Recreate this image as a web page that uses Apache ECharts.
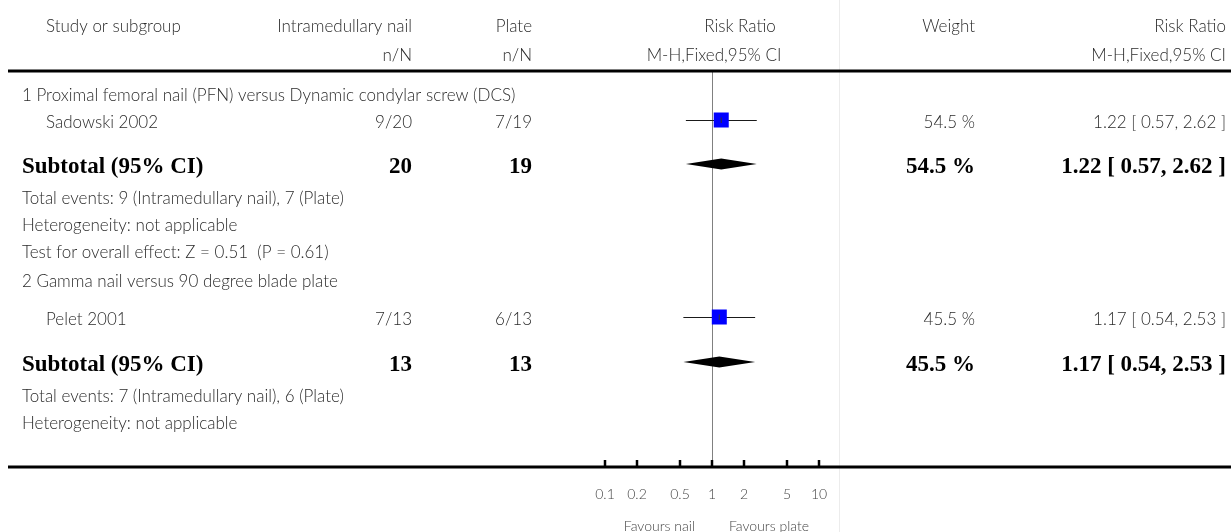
<!DOCTYPE html>
<html>
<head>
<meta charset="utf-8">
<script src="https://cdn.jsdelivr.net/npm/echarts@6/dist/echarts.min.js"></script>
<style>html,body{margin:0;padding:0;background:#fff}#c{width:1231px;height:532px}</style>
</head>
<body>
<div id="c"></div>
<script>
// ---------- data ----------
const subgroupTitles = ['1 Proximal femoral nail (PFN) versus Dynamic condylar screw (DCS)', '2 Gamma nail versus 90 degree blade plate'];
const studies = ['Sadowski 2002', 'Pelet 2001'];
const nailEvents = [9, 7];
const nailTotal = [20, 13];
const plateEvents = [7, 6];
const plateTotal = [19, 13];
const weights = [54.5, 45.5];
const rr = [1.22, 1.17];
const ciLow = [0.57, 0.54];
const ciHigh = [2.62, 2.53];
const subtotalRR = [1.22, 1.17];
const subtotalLow = [0.57, 0.54];
const subtotalHigh = [2.62, 2.53];
const subtotalWeight = [54.5, 45.5];
const heterogeneity = ['not applicable', 'not applicable'];
const overallEffect = ['Z = 0.51  (P = 0.61)', null];
const axisTicks = [0.1, 0.2, 0.5, 1, 2, 5, 10];
const axisTickLabels = ['0.1', '0.2', '0.5', '1', '2', '5', '10'];
const favourLeft = 'Favours nail';
const favourRight = 'Favours plate';

// ---------- layout ----------
const W = 1231, H = 532;
const PLOT_L = 605, PLOT_W = 214;
const TOP_RULE = 71, BOTTOM_RULE = 467;
const COL_STUDY = 46, COL_HEAD = 22, COL_NAIL = 412, COL_PLATE = 532, COL_W = 975, COL_RR = 1226;
const groupRows = [
  {heading: 96, study: 120, subtotal: 164, te: 199, het: 226, test: 253},
  {heading: 282, study: 317, subtotal: 362, te: 397, het: 424, test: null}
];
const TXT_OFF = 3;
const SANS = 'Lato, "Open Sans", sans-serif';
const SERIF = '"Liberation Serif", "DejaVu Serif", serif';
const TXT = '#2b2b2b';
const REG = '300 17px ' + SANS;
const SMALL = '300 14px ' + SANS;

function T(x, y, text, opts) {
  opts = opts || {};
  return {
    type: 'text', x: x, y: y, silent: true,
    style: {
      text: text,
      fill: opts.fill || TXT,
      font: opts.font || REG,
      align: opts.align || 'left',
      verticalAlign: 'middle'
    }
  };
}
const fmt = v => v.toFixed(2);
const rrText = (m, l, h) => fmt(m) + ' [ ' + fmt(l) + ', ' + fmt(h) + ' ]';

const graphics = [];
graphics.push({type: 'line', silent: true, shape: {x1: 839.5, y1: 0, x2: 839.5, y2: H}, style: {stroke: '#ececec', lineWidth: 1}, z: 0});
graphics.push(T(COL_STUDY, 27, 'Study or subgroup'));
graphics.push(T(COL_NAIL, 27, 'Intramedullary nail', {align: 'right'}));
graphics.push(T(COL_NAIL, 56, 'n/N', {align: 'right'}));
graphics.push(T(COL_PLATE, 27, 'Plate', {align: 'right'}));
graphics.push(T(COL_PLATE, 56, 'n/N', {align: 'right'}));
graphics.push(T(740, 27, 'Risk Ratio', {align: 'center'}));
graphics.push(T(714, 56, 'M-H,Fixed,95% CI', {align: 'center'}));
graphics.push(T(COL_W, 27, 'Weight', {align: 'right'}));
graphics.push(T(COL_RR, 27, 'Risk Ratio', {align: 'right'}));
graphics.push(T(COL_RR, 56, 'M-H,Fixed,95% CI', {align: 'right'}));
graphics.push({type: 'line', silent: true, shape: {x1: 8, y1: TOP_RULE, x2: W, y2: TOP_RULE}, style: {stroke: '#000', lineWidth: 3}, z: 5});
graphics.push({type: 'line', silent: true, shape: {x1: 8, y1: BOTTOM_RULE, x2: W, y2: BOTTOM_RULE}, style: {stroke: '#000', lineWidth: 3}, z: 5});

const boldSerif = 'bold 23px ' + SERIF;
studies.forEach((s, i) => {
  const r = groupRows[i];
  graphics.push(T(COL_HEAD, r.heading, subgroupTitles[i]));
  const ys = r.study + TXT_OFF;
  graphics.push(T(COL_STUDY, ys, s));
  graphics.push(T(COL_NAIL, ys, nailEvents[i] + '/' + nailTotal[i], {align: 'right'}));
  graphics.push(T(COL_PLATE, ys, plateEvents[i] + '/' + plateTotal[i], {align: 'right'}));
  graphics.push(T(COL_W, ys, weights[i].toFixed(1) + ' %', {align: 'right'}));
  graphics.push(T(COL_RR, ys, rrText(rr[i], ciLow[i], ciHigh[i]), {align: 'right'}));
  const yt = r.subtotal + TXT_OFF;
  graphics.push(T(COL_HEAD, yt, 'Subtotal (95% CI)', {font: boldSerif, fill: '#000'}));
  graphics.push(T(COL_NAIL, yt, String(nailTotal[i]), {font: boldSerif, fill: '#000', align: 'right'}));
  graphics.push(T(COL_PLATE, yt, String(plateTotal[i]), {font: boldSerif, fill: '#000', align: 'right'}));
  graphics.push(T(COL_W, yt, subtotalWeight[i].toFixed(1) + ' %', {font: boldSerif, fill: '#000', align: 'right'}));
  graphics.push(T(COL_RR, yt, rrText(subtotalRR[i], subtotalLow[i], subtotalHigh[i]), {font: boldSerif, fill: '#000', align: 'right'}));
  graphics.push(T(COL_HEAD, r.te, 'Total events: ' + nailEvents[i] + ' (Intramedullary nail), ' + plateEvents[i] + ' (Plate)'));
  graphics.push(T(COL_HEAD, r.het, 'Heterogeneity: ' + heterogeneity[i]));
  if (overallEffect[i] && r.test) graphics.push(T(COL_HEAD, r.test, 'Test for overall effect: ' + overallEffect[i]));
});

const studyData = studies.map((s, i) => [rr[i], ciLow[i], ciHigh[i], groupRows[i].study]);
const diamondData = studies.map((s, i) => [subtotalRR[i], subtotalLow[i], subtotalHigh[i], groupRows[i].subtotal]);
const tickData = axisTicks.map((t, i) => [t, i]);

const chart = echarts.init(document.getElementById('c'), null, {renderer: 'canvas'});
chart.setOption({
  animation: false,
  backgroundColor: '#fff',
  grid: {left: PLOT_L, width: PLOT_W, top: 0, height: H},
  xAxis: {type: 'log', logBase: 10, min: 0.1, max: 10, show: false},
  yAxis: {type: 'value', min: 0, max: H, inverse: true, show: false},
  graphic: graphics,
  series: [
    {
      type: 'custom', silent: true, z: 1,
      data: [[1]],
      renderItem: (params, api) => {
        const a = api.coord([api.value(0), TOP_RULE]);
        const b = api.coord([api.value(0), BOTTOM_RULE]);
        return {type: 'line', shape: {x1: Math.round(a[0]) + 0.5, y1: a[1], x2: Math.round(b[0]) + 0.5, y2: b[1]}, style: {stroke: '#808080', lineWidth: 1}};
      }
    },
    {
      type: 'custom', silent: true, z: 3,
      data: studyData,
      renderItem: (params, api) => {
        const y = api.value(3);
        const m = api.coord([api.value(0), y]);
        const l = api.coord([api.value(1), y]);
        const h = api.coord([api.value(2), y]);
        const s = 15;
        return {type: 'group', children: [
          {type: 'line', shape: {x1: l[0], y1: m[1] + 0.5, x2: h[0], y2: m[1] + 0.5}, style: {stroke: '#1a1a1a', lineWidth: 1.2}},
          {type: 'rect', shape: {x: m[0] - s / 2, y: m[1] - s / 2, width: s, height: s}, style: {fill: '#0000ff'}},
          {type: 'line', shape: {x1: m[0], y1: m[1] - 2.5, x2: m[0], y2: m[1] + 3}, style: {stroke: '#333', lineWidth: 1}}
        ]};
      }
    },
    {
      type: 'custom', silent: true, z: 3,
      data: diamondData,
      renderItem: (params, api) => {
        const y = api.value(3);
        const m = api.coord([api.value(0), y]);
        const l = api.coord([api.value(1), y]);
        const h = api.coord([api.value(2), y]);
        const hh = 5.5;
        return {type: 'polygon', shape: {points: [[l[0], m[1]], [m[0], m[1] - hh], [h[0], m[1]], [m[0], m[1] + hh]]}, style: {fill: '#000'}};
      }
    },
    {
      type: 'custom', silent: true, z: 6,
      data: tickData,
      renderItem: (params, api) => {
        const p = api.coord([api.value(0), BOTTOM_RULE]);
        const x = Math.round(p[0]);
        return {type: 'group', children: [
          {type: 'line', shape: {x1: x, y1: BOTTOM_RULE - 7, x2: x, y2: BOTTOM_RULE}, style: {stroke: '#000', lineWidth: 2.5}},
          {type: 'text', x: x, y: 494, style: {text: axisTickLabels[api.value(1)], fill: '#444', font: SMALL, align: 'center', verticalAlign: 'middle'}}
        ]};
      }
    },
    {
      type: 'custom', silent: true, z: 6,
      data: [[1]],
      renderItem: (params, api) => {
        const p = api.coord([api.value(0), 526]);
        return {type: 'group', children: [
          {type: 'text', x: p[0] - 17, y: 526, style: {text: favourLeft, fill: '#444', font: SMALL, align: 'right', verticalAlign: 'middle'}},
          {type: 'text', x: p[0] + 17, y: 526, style: {text: favourRight, fill: '#444', font: SMALL, align: 'left', verticalAlign: 'middle'}}
        ]};
      }
    }
  ]
});
</script>
</body>
</html>
